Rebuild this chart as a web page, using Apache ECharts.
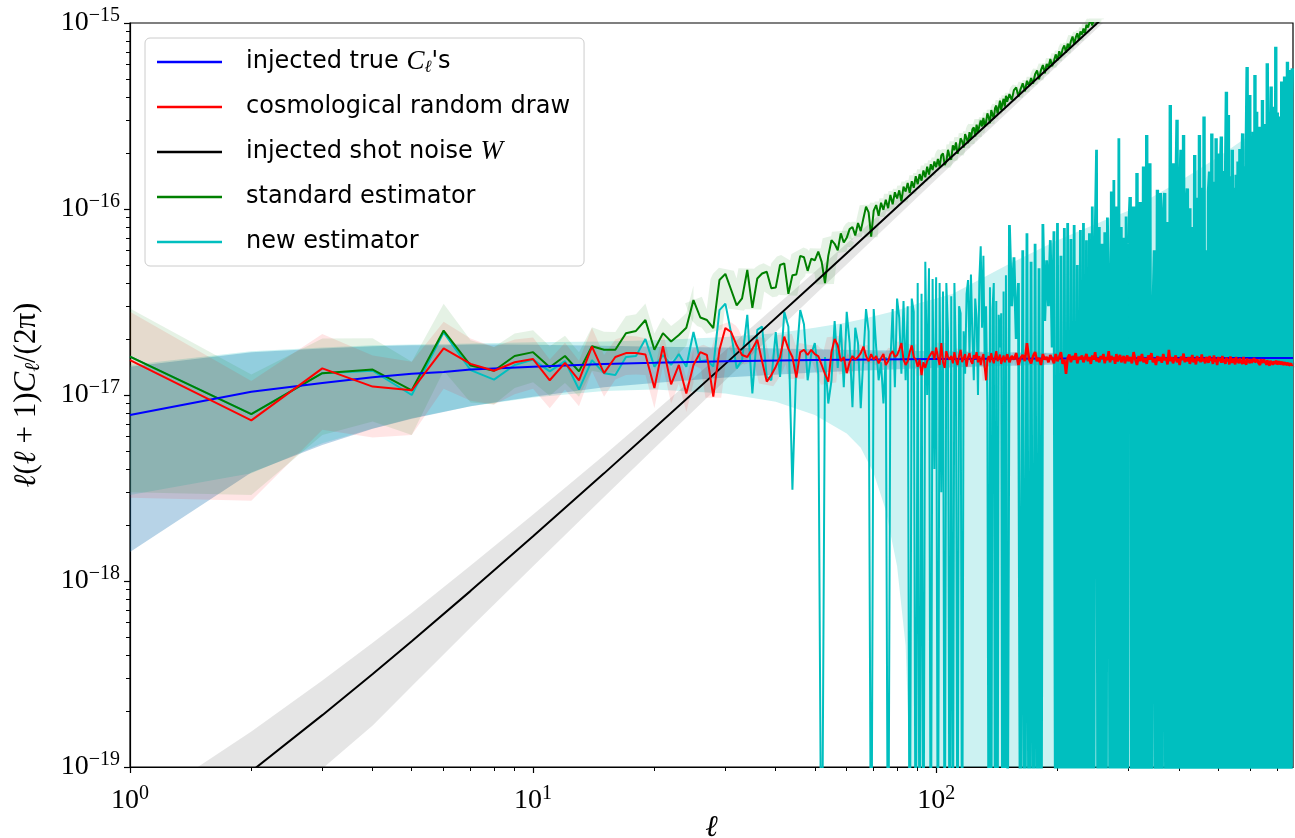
<!DOCTYPE html>
<html><head><meta charset="utf-8">
<script src="https://cdn.jsdelivr.net/npm/echarts@6/dist/echarts.min.js"></script>
<style>html,body{margin:0;padding:0;background:#fff}#c{width:1295px;height:838px}</style>
</head><body><div id="c"></div>
<script>
// ---------- categories (multipole ell grid) ----------
function range(a, b, s) { const r = []; for (let v = a; v <= b; v += s) r.push(v); return r; }
const ellGrid = [...range(1, 150, 1), ...range(152, 300, 2), ...range(303, 765, 3)];

// all values in units of 1e-17
const redVals = [
1.54,0.73,1.39,1.11,1.06,1.78,1.47,1.35,1.50,1.56,
1.20,1.49,1.20,1.82,1.31,1.60,1.68,1.68,1.65,1.09,
1.83,1.14,1.45,1.02,1.45,1.70,1.64,0.98,1.75,2.29,
2.18,1.85,1.64,1.60,1.77,1.98,1.52,1.18,1.28,1.42,
1.60,2.06,1.77,1.60,1.24,1.70,1.75,1.64,1.75,1.66,
1.62,1.45,1.30,1.18,1.70,2.00,1.85,1.52,1.60,1.31,
1.50,1.62,1.55,1.60,1.68,1.82,1.62,1.52,1.66,1.55,
1.62,1.48,1.58,1.66,1.45,1.52,1.66,1.72,1.60,1.64,
1.75,1.90,1.55,1.45,1.52,1.70,1.85,1.60,1.55,1.42,
1.55,1.28,1.50,1.40,1.52,1.60,1.66,1.72,1.55,1.80,
1.60,1.45,1.90,1.50,1.40,1.72,1.60,1.55,1.62,1.48,
1.70,1.55,1.45,1.62,1.75,1.50,1.58,1.66,1.42,1.60,
1.68,1.52,1.47,1.64,1.57,1.70,1.50,1.62,1.45,1.58,
1.66,1.40,1.20,1.55,1.62,1.50,1.68,1.56,1.48,1.60,
1.72,1.52,1.58,1.65,1.47,1.55,1.63,1.50,1.58,1.66,
1.50,1.62,1.55,1.68,1.45,1.58,1.64,1.52,1.90,1.56,
1.48,1.62,1.70,1.52,1.58,1.45,1.66,1.55,1.60,1.50,
1.64,1.57,1.48,1.66,1.52,1.60,1.70,1.47,1.55,1.30,
1.58,1.65,1.50,1.62,1.55,1.68,1.48,1.60,1.56,1.63,
1.50,1.58,1.66,1.52,1.60,1.47,1.63,1.55,1.70,1.52,
1.58,1.50,1.62,1.56,1.66,1.48,1.60,1.54,1.72,1.50,
1.62,1.55,1.60,1.47,1.66,1.52,1.58,1.64,1.50,1.57,
1.62,1.48,1.56,1.63,1.52,
1.60,1.48,1.70,1.55,1.45,1.62,1.52,1.66,1.50,1.58,
1.47,1.63,1.55,1.68,1.50,1.57,1.45,1.62,1.53,1.60,
1.49,1.66,1.54,1.58,1.46,1.75,1.52,1.60,1.48,1.56,
1.63,1.50,1.57,1.45,1.61,1.54,1.67,1.50,1.58,1.52,
1.60,1.47,1.55,1.64,1.50,1.57,1.46,1.62,1.53,1.58,
1.50,1.65,1.52,1.57,1.48,1.60,1.54,1.49,1.62,1.53,
1.57,1.47,1.63,1.51,1.56,1.45,1.60,1.52,1.58,1.49,
1.62,1.50,1.55,1.47,1.59,1.52,1.56,1.46,1.61,1.53,
1.49,1.57,1.52,1.46,1.60,1.50,1.55,1.48,1.58,1.51,
1.54,1.47,1.60,1.50,1.53,1.46,1.57,1.50,1.54,1.48,
1.56,1.49,1.52,1.46,1.58,1.50,1.53,1.47,1.55,1.49,
1.52,1.45,1.56,1.49,1.51,1.46,1.55,1.48,1.52,1.45,
1.54,1.48,1.50,1.44,1.53,1.47,1.51,1.45,1.52,1.47,
1.50,1.44,1.53,1.46,1.49,1.43,1.52,1.46,1.48,1.44,
1.51,1.45,1.48,1.42,1.50,1.45,1.47,1.43,1.49,1.44,
1.47,1.42,1.48,1.44,1.46
];

const greenVals = [
1.61,0.79,1.31,1.37,1.06,2.22,1.44,1.35,1.62,1.70,
1.41,1.62,1.34,1.83,1.75,1.75,2.15,2.21,2.53,1.75,
2.15,1.94,2.10,2.30,3.24,2.61,2.53,2.29,4.15,4.48,
3.68,3.03,3.31,4.70,2.94,4.23,4.50,4.60,3.75,3.78,
5.00,5.10,3.50,4.40,4.45,5.60,5.50,4.65,5.40,5.30,
5.9,5.2,4.0,5.6,6.8,6.5,6.0,7.4,6.6,7.0,
7.8,8.0,7.2,8.4,7.6,8.9,10.3,9.6,7.1,9.8,
10.5,9.2,10.8,9.9,11.2,10.1,11.9,10.6,12.3,11.4,
12.6,11.0,13.2,12.4,13.8,12.2,14.1,13.0,15.0,13.6,
15.4,14.2,16.1,14.8,16.9,15.3,17.4,16.2,18.0,16.8,
18.6,16.9,19.4,19.9,17.2,18.0,20.8,19.1,18.4,22.0,
20.7,22.8,19.8,21.2,24.0,23.1,21.4,25.3,24.0,22.6,
25.9,23.7,26.8,27.5,24.6,28.4,26.0,25.5,29.9,27.8,
30.9,28.0,29.4,32.7,31.1,28.9,34.0,33.2,30.6,34.8,
36.0,32.6,35.1,38.2,34.0,36.9,39.1,35.5,40.6,37.8,
41.5,38.6,43.6,45.0,40.2,44.1,47.4,42.9,48.9,46.0,
50.6,47.2,53.0,55.5,49.8,55.8,59.4,53.6,60.2,57.8,
64.0,58.6,62.5,67.8,63.0,70.5,66.0,72.6,75.8,69.2,
77.5,73.2,80.0,84.6,76.8,83.6,88.0,81.0,90.2,86.6,
93.5,88.0,98.0,94.5,100,103,97.0,105,108,101,
111,106,116,112,118,123,115,124,129,121
];

const cyanVals = [
1.61,0.79,1.31,1.35,1.00,2.17,1.36,1.21,1.45,1.55,
1.34,1.52,1.07,1.54,1.31,1.28,1.60,1.62,2.00,1.42,
1.64,1.45,1.66,1.42,2.18,1.52,1.54,1.42,2.86,3.10,
2.15,1.39,1.54,2.70,1.02,2.24,2.33,1.25,1.20,2.18,
1.25,2.80,2.33,0.31,1.54,2.86,2.40,1.20,1.66,1.90,
1.30,0.001,1.60,0.90,1.20,2.50,1.40,2.40,1.10,2.80,
1.90,0.86,2.30,1.90,0.85,1.60,2.90,2.20,0.001,2.90,
1.80,1.20,1.50,0.90,1.60,0.001,1.50,2.90,1.10,3.30,
2.60,1.30,3.20,1.20,3.00,0.001,3.30,2.80,0.001,4.00,
0.001,3.50,0.001,5.20,1.00,4.80,0.001,4.20,0.40,4.30,
0.001,4.00,0.30,3.60,0.001,4.00,2.20,0.001,3.40,0.001,
4.00,1.50,0.001,3.00,2.75,0.001,2.20,1.30,3.50,4.15,
1.60,4.45,2.10,1.20,3.30,2.60,1.00,4.20,6.30,2.30,
5.60,1.40,3.00,0.90,0.001,3.80,0.001,2.90,4.00,0.001,
3.20,0.001,2.70,1.80,2.75,0.001,3.60,0.001,4.40,0.001,
8.2,3.0,5.5,2.0,4.0,0.001,6.0,0.001,7.4,0.001,
5.2,0.001,6.5,0.001,4.8,0.001,8.3,2.5,5.3,3.0,
6.8,1.8,7.6,0.001,8.4,0.001,5.6,0.001,7.9,0.001,
8.4,0.001,6.9,0.001,8.2,0.001,5.0,0.001,7.7,0.001,
8.4,0.001,6.8,0.001,7.4,0.001,10.3,0.001,7.0,20.8,
0.001,8.0,0.001,6.5,0.001,7.5,0.001,9.0,4.15,0.001,
12.4,0.001,14.3,0.001,10.3,0.001,24.0,0.001,8.0,0.001,
7.0,0.001,9.1,0.001,6.5,
11.6,0.001,10.3,0.001,15.6,0.001,10.9,0.001,16.9,0.001,
25.0,0.001,17.6,0.001,2.4,6.0,0.001,12.7,0.001,12.2,
0.001,9.0,12.2,0.001,8.5,0.001,36.2,0.001,17.6,0.001,
9.5,30.2,0.001,11.0,20.8,0.001,25.0,0.001,9.8,12.9,
0.001,10.1,0.001,8.0,0.001,19.5,0.001,11.5,0.001,25.0,
0.001,13.0,0.001,31.4,0.001,6.0,0.001,12.5,15.9,0.001,
25.5,0.001,14.0,0.001,24.0,0.001,19.9,0.001,13.5,24.5,
0.001,16.0,0.001,12.0,42.7,0.001,32.0,0.001,15.0,0.001,
20.8,0.001,13.0,0.001,15.3,0.001,18.0,0.001,21.0,0.001,
14.0,25.5,0.001,17.0,0.001,20.0,58.0,0.001,22.0,41.0,
0.001,19.0,0.001,26.0,0.001,52.5,0.001,33.3,0.001,21.0,
27.7,0.001,24.0,0.001,38.5,0.001,28.6,0.001,25.0,0.001,
60.7,0.001,30.0,0.001,26.0,45.5,0.001,35.5,0.001,29.0,
0.001,74.6,0.001,33.0,0.001,31.4,0.001,27.0,0.001,48.4,
0.001,36.0,0.001,51.5,0.001,30.0,0.001,61.9,0.001,34.0,
0.001,55.9,0.001,40.0,57.0
];

// smooth curves
const blueEll = [1,2,3,4,5,6,7,8,10,15,20,30,50,100,200,400,768];
const blueVals = [0.78,1.04,1.16,1.245,1.30,1.33,1.37,1.39,1.42,1.47,1.49,1.52,1.54,1.56,1.57,1.58,1.58];
const blueBandUp = [1.42,1.70,1.78,1.83,1.85,1.85,1.87,1.87,1.86,1.84,1.82,1.80,1.76,1.72,1.68,1.66,1.64];
const blueBandLo = [0.143,0.383,0.539,0.659,0.746,0.81,0.87,0.91,0.98,1.10,1.16,1.24,1.32,1.40,1.46,1.50,1.52];

const blackEll = [1,2,3,4,5,7,10,15,20,30,50,70,100,150,250,400,768];
const blackVals = [0.00316,0.00948,0.019,0.0316,0.0474,0.0885,0.174,0.379,0.664,1.47,4.03,7.85,16.0,35.8,99.1,253,933];
const grayBandUp = [0.00574,0.0155,0.0292,0.0465,0.0676,0.121,0.228,0.475,0.811,1.74,4.60,8.78,17.6,38.7,105,266,967];
const grayBandLo = [0.00058,0.00349,0.0098,0.0167,0.0272,0.0562,0.120,0.283,0.517,1.20,3.46,6.92,14.4,32.9,92.8,240,899];

const cyanBandEll = [1,2,3,4,5,7,10,15,20,30,40,50,60,65,70,75,80,84,86,87,90,100,110,150,200,262,300,400,500,643,768];
const cyanBandUp = [1.45,1.72,1.80,1.85,1.87,1.89,1.92,1.94,1.97,2.05,2.15,2.30,2.45,2.55,2.65,2.75,2.85,2.95,3.0,3.02,3.1,3.3,3.5,5.0,6.8,8.7,9.8,14.0,19.0,27.7,34.0];
const cyanBandLo = [0.29,0.38,0.55,0.66,0.75,0.87,0.97,1.05,1.07,1.02,0.92,0.78,0.62,0.52,0.38,0.24,0.12,0.045,0.01,0.0001,0.0001,0.0001,0.0001,0.0001,0.0001,0.0001,0.0001,0.0001,0.0001,0.0001,0.0001];

// low-ell error bands of the noisy curves (ell 1..25)
const lowBandEll = ellGrid.slice(0, 25);
const redBandUp = [2.80,1.19,2.13,1.63,1.51,2.48,2.01,1.81,1.99,2.04,1.55,1.91,1.53,2.30,1.64,1.99,2.08,2.07,2.02,1.33,2.23,1.38,1.75,1.23,1.74];
const redBandLo = [0.28,0.27,0.65,0.59,0.61,1.08,0.93,0.89,1.01,1.08,0.85,1.07,0.87,1.34,0.98,1.21,1.28,1.29,1.28,0.85,1.43,0.90,1.15,0.81,1.16];
const greenBandUp = [2.92,1.29,2.01,2.02,1.51,3.09,1.97,1.81,2.14,2.23,1.83,2.08,1.70,2.31,2.19,2.18,2.66,2.72,3.10,2.14,2.61,2.35,2.53,2.76,3.88];
const greenBandLo = [0.30,0.29,0.61,0.72,0.61,1.35,0.91,0.89,1.09,1.17,0.99,1.16,0.98,1.35,1.31,1.32,1.64,1.70,1.96,1.36,1.69,1.53,1.67,1.84,2.60];

// axes ticks
const xTickValues = [1, 10, 100];
const xTickExps = ['0', '1', '2'];
const xMinorTicks = [2,3,4,5,6,7,8,9,20,30,40,50,60,70,80,90,200,300,400,500,600,700];
const yTickValues = [0.01, 0.1, 1, 10, 100];
const yTickExps = ['\u221219', '\u221218', '\u221217', '\u221216', '\u221215'];
const yMinorTicks = [0.02,0.03,0.04,0.05,0.06,0.07,0.08,0.09,0.2,0.3,0.4,0.5,0.6,0.7,0.8,0.9,2,3,4,5,6,7,8,9,20,30,40,50,60,70,80,90];

const S_BLUE = "injected true C\u2113's";
const S_RED = 'cosmological random draw';
const S_BLACK = 'injected shot noise W';
const S_GREEN = 'standard estimator';
const S_CYAN = 'new estimator';
const legendLabels = {};
legendLabels[S_BLUE] = "{g| }injected true {m|C}{sub|\u2113}'s";
legendLabels[S_RED] = '{g| }cosmological random draw';
legendLabels[S_BLACK] = '{g| }injected shot noise {w|W}';
legendLabels[S_GREEN] = '{g| }standard estimator';
legendLabels[S_CYAN] = '{g| }new estimator';

// ---------- build ----------
const SERIF = '"Liberation Serif", "DejaVu Serif", serif';
const SANS = '"DejaVu Sans", sans-serif';
const pairs = (xs, ys) => ys.map((v, i) => [xs[i], v]);
const redPts = pairs(ellGrid, redVals);
const greenPts = pairs(ellGrid, greenVals);
const cyanPts = pairs(ellGrid, cyanVals);

function bandSeries(xs, up, lo, fill) {
  return {
    type: 'custom', silent: true, clip: true, z: 1,
    data: [[xs[0], up[0]]],
    renderItem: function (params, api) {
      const pts = [];
      for (let i = 0; i < xs.length; i++) pts.push(api.coord([xs[i], up[i]]));
      for (let i = xs.length - 1; i >= 0; i--) pts.push(api.coord([xs[i], lo[i]]));
      return { type: 'polygon', shape: { points: pts }, style: { fill: fill } };
    }
  };
}
function halo(pts, color, width) {
  return {
    type: 'line', data: pts, silent: true, showSymbol: false, symbol: 'none', z: 2,
    lineStyle: { color: color, width: width, cap: 'butt', join: 'bevel' },
    emphasis: { disabled: true }
  };
}
function line(name, pts, color, z, width) {
  return {
    type: 'line', name: name, data: pts, showSymbol: false, symbol: 'none', z: z,
    color: color, lineStyle: { color: color, width: width || 2 },
    emphasis: { disabled: true }
  };
}
function tickFmt(values, exps) {
  return function (v) {
    for (let i = 0; i < values.length; i++) {
      if (Math.abs(Math.log10(values[i]) - Math.log10(v)) < 1e-6) return '{b|10}{s|' + exps[i] + '}';
    }
    return '';
  };
}
const tickRich = {
  b: { fontFamily: SERIF, fontSize: 28, color: '#000' },
  s: { fontFamily: SERIF, fontSize: 20, color: '#000', padding: [0, 0, 14, 0] }
};

const chart = echarts.init(document.getElementById('c'), null, { renderer: 'canvas' });
chart.setOption({
  animation: false,
  backgroundColor: '#fff',
  grid: { left: 130, right: 2, top: 23, bottom: 71, show: true, borderColor: '#000', borderWidth: 1.2,
          backgroundColor: 'transparent', outerBoundsMode: 'none', containLabel: false },
  legend: {
    orient: 'vertical', left: 145, top: 38, padding: [9, 14, 9, 12],
    itemWidth: 65, itemHeight: 2.5, itemGap: 15, icon: 'rect',
    backgroundColor: 'rgba(255,255,255,0.85)', borderColor: '#cccccc', borderWidth: 1, borderRadius: 5,
    selectedMode: false,
    data: [S_BLUE, S_RED, S_BLACK, S_GREEN, S_CYAN],
    formatter: function (n) { return legendLabels[n]; },
    textStyle: {
      fontFamily: SANS, fontSize: 24, color: '#000', lineHeight: 30,
      rich: {
        g: { width: 19 },
        m: { fontFamily: SERIF, fontStyle: 'italic', fontSize: 27, color: '#000' },
        sub: { fontFamily: SERIF, fontStyle: 'italic', fontSize: 17, color: '#000', padding: [12, 0, 0, 0] },
        w: { fontFamily: SERIF, fontStyle: 'italic', fontSize: 27, color: '#000' }
      }
    }
  },
  xAxis: [{
    type: 'log', logBase: 10, min: 1, max: 768,
    name: '\u2113', nameLocation: 'middle', nameGap: 46, nameMoveOverlap: false,
    nameTextStyle: { fontFamily: SERIF, fontStyle: 'italic', fontSize: 30, color: '#000' },
    axisLine: { show: true, lineStyle: { color: '#000', width: 1.2 } },
    axisTick: { show: true, customValues: xTickValues, length: 6, lineStyle: { color: '#000', width: 1.2 } },
    axisLabel: { customValues: xTickValues, formatter: tickFmt(xTickValues, xTickExps), rich: tickRich,
                 margin: 8, padding: [9, 0, 0, 0] },
    splitLine: { show: false }
  }, {
    type: 'log', logBase: 10, min: 1, max: 768, position: 'bottom',
    axisLine: { show: false }, axisLabel: { show: false }, splitLine: { show: false },
    axisTick: { show: true, customValues: xMinorTicks, length: 4, lineStyle: { color: '#000', width: 1 } }
  }],
  yAxis: [{
    type: 'log', logBase: 10, min: 0.01, max: 100,
    name: '{i|\u2113}({i|\u2113} + 1){i|C}{sb|\u2113}/(2\u03c0)', nameLocation: 'middle', nameGap: 86, nameRotate: 90, nameMoveOverlap: false,
    nameTextStyle: {
      fontFamily: SERIF, fontSize: 31, color: '#000',
      rich: {
        i: { fontFamily: SERIF, fontStyle: 'italic', fontSize: 31, color: '#000' },
        sb: { fontFamily: SERIF, fontStyle: 'italic', fontSize: 21, color: '#000', padding: [13, 0, 0, 0] }
      }
    },
    axisLine: { show: true, lineStyle: { color: '#000', width: 1.2 } },
    axisTick: { show: true, customValues: yTickValues, length: 6, lineStyle: { color: '#000', width: 1.2 } },
    axisLabel: { customValues: yTickValues, formatter: tickFmt(yTickValues, yTickExps), rich: tickRich, margin: 10 },
    splitLine: { show: false }
  }, {
    type: 'log', logBase: 10, min: 0.01, max: 100, position: 'left',
    axisLine: { show: false }, axisLabel: { show: false }, splitLine: { show: false },
    axisTick: { show: true, customValues: yMinorTicks, length: 4, lineStyle: { color: '#000', width: 1 } }
  }],
  series: [
    bandSeries(blueEll, blueBandUp, blueBandLo, 'rgba(31,119,180,0.32)'),
    bandSeries(cyanBandEll, cyanBandUp, cyanBandLo, 'rgba(0,191,191,0.2)'),
    bandSeries(blackEll, grayBandUp, grayBandLo, 'rgba(0,0,0,0.1)'),
    bandSeries(lowBandEll, redBandUp, redBandLo, 'rgba(255,0,0,0.1)'),
    bandSeries(lowBandEll, greenBandUp, greenBandLo, 'rgba(0,128,0,0.1)'),
    halo(redPts.slice(24, 60), 'rgba(255,0,0,0.1)', 16),
    halo(redPts.slice(59, 130), 'rgba(255,0,0,0.1)', 11),
    halo(redPts.slice(129), 'rgba(255,0,0,0.1)', 7),
    halo(greenPts.slice(24, 60), 'rgba(0,128,0,0.1)', 18),
    halo(greenPts.slice(59, 130), 'rgba(0,128,0,0.1)', 13),
    halo(greenPts.slice(129), 'rgba(0,128,0,0.1)', 9),
    line(S_CYAN, cyanPts.slice(0, 150), '#00bfbf', 3, 2),
    line(null, cyanPts.slice(149, 225), '#00bfbf', 3, 2.8),
    line(null, cyanPts.slice(224), '#00bfbf', 3, 3.4),
    line(S_GREEN, greenPts, '#008000', 4, 2),
    line(S_BLACK, pairs(blackEll, blackVals), '#000000', 5, 2),
    line(S_BLUE, pairs(blueEll, blueVals), '#0000ff', 6, 2),
    line(S_RED, redPts.slice(0, 150), '#ff0000', 7, 2),
    line(null, redPts.slice(149), '#ff0000', 7, 2.6)
  ]
});
</script></body></html>
